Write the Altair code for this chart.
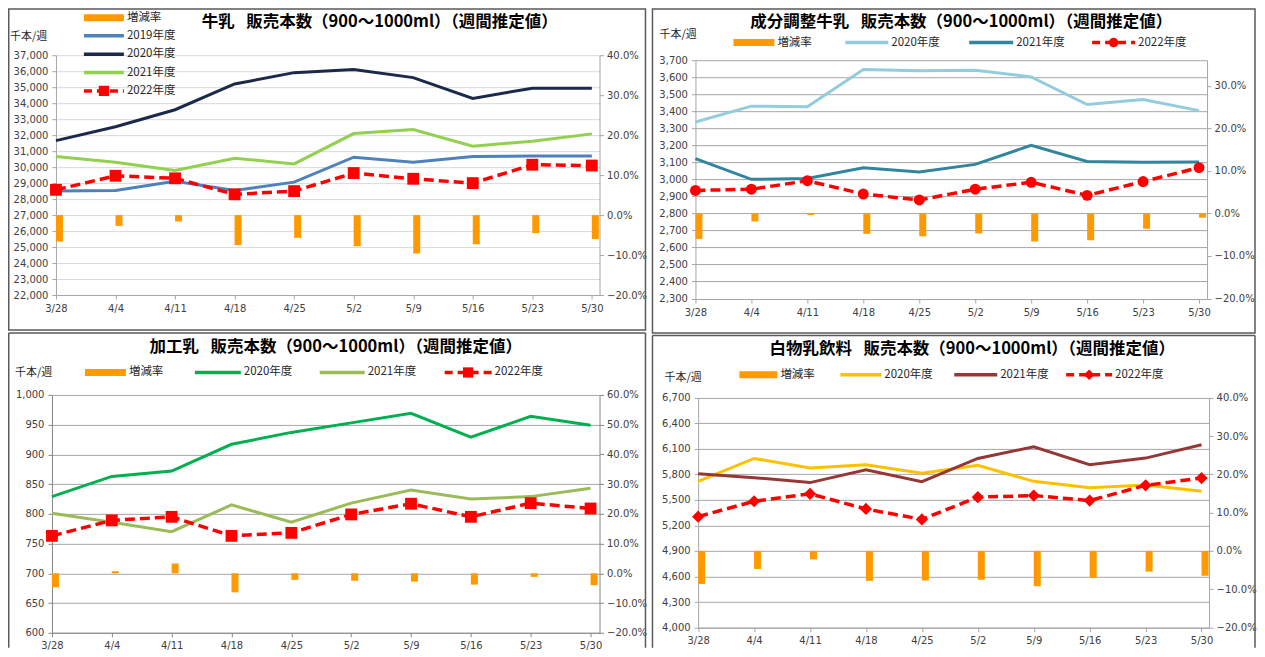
import json
import altair as alt
import pandas as pd

# ---------------- data ----------------
weeks = ["3/28", "4/4", "4/11", "4/18", "4/25", "5/2", "5/9", "5/16", "5/23", "5/30"]

# 牛乳
milk_title = "牛乳\u2002\u2009販売本数（900～1000ml）（週間推定値）"
milk_2019 = [28500, 28540, 29120, 28540, 29060, 30620, 30310, 30670, 30690, 30690]
milk_2020 = [31660, 32530, 33590, 35200, 35910, 36100, 35600, 34300, 34940, 34940]
milk_2021 = [30660, 30310, 29790, 30560, 30200, 32100, 32350, 31310, 31620, 32080]
milk_2022 = [28580, 29460, 29300, 28300, 28500, 29630, 29270, 29000, 30150, 30100]
milk_rate = [-6.6, -2.7, -1.6, -7.5, -5.7, -7.8, -9.6, -7.3, -4.5, -6.0]

# 成分調整牛乳
adj_title = "成分調整牛乳\u2002\u2009販売本数（900～1000ml）（週間推定値）"
adj_2020 = [3337, 3430, 3427, 3645, 3638, 3641, 3602, 3440, 3469, 3404]
adj_2021 = [3122, 3000, 3005, 3068, 3043, 3088, 3200, 3105, 3100, 3102]
adj_2022 = [2935, 2942, 2992, 2914, 2879, 2942, 2983, 2906, 2987, 3069]
adj_rate = [-6.0, -1.9, -0.4, -4.8, -5.4, -4.7, -6.6, -6.3, -3.6, -1.0]

# 加工乳
proc_title = "加工乳\u2002\u2009販売本数（900～1000ml）（週間推定値）"
proc_2020 = [829, 863, 872, 917, 937, 953, 969, 929, 964, 949]
proc_2021 = [801, 786, 770, 815, 786, 818, 840, 825, 829, 843]
proc_2022 = [763, 789, 795, 763, 768, 799, 817, 795, 818, 809]
proc_rate = [-4.7, 0.7, 3.3, -6.4, -2.2, -2.5, -2.8, -3.8, -1.2, -4.0]

# 白物乳飲料
drink_title = "白物乳飲料\u2002\u2009販売本数（900～1000ml）（週間推定値）"
drink_2020 = [5718, 5987, 5874, 5913, 5812, 5906, 5718, 5644, 5675, 5601]
drink_2021 = [5808, 5761, 5703, 5855, 5714, 5987, 6124, 5913, 5991, 6147]
drink_2022 = [5303, 5484, 5571, 5393, 5271, 5532, 5551, 5492, 5671, 5757]
drink_rate = [-8.6, -4.7, -2.2, -7.8, -7.7, -7.5, -9.2, -7.0, -5.4, -6.5]

unit_label = "千本/週"
rate_label = "増減率"

# ---------------- style ----------------
JP = "Noto Sans CJK JP"
NUM = "DejaVu Sans"
ORANGE = "#FF9900"
RED = "#FF0000"
BORDER = "#5A5A5A"
LABEL_EXPR = json.dumps(weeks) + "[datum.value]"


def make_panel(p):
    n = len(weeks)
    idx = list(range(n))
    xr0, xr1 = p["xrange"]
    px_unit = (xr1 - xr0) / p["xmax"]
    bar_w = 7.0 / px_unit

    X = alt.X(
        "i:Q",
        scale=alt.Scale(domain=[0, p["xmax"]], range=p["xrange"], nice=False, zero=False),
        axis=alt.Axis(values=idx, labelExpr=LABEL_EXPR, title=None, grid=False,
                      domainColor=p["axis"], tickColor=p["axis"], tickSize=4,
                      labelFont=NUM, labelFontSize=10, labelColor="#404040",
                      labelPadding=4, labelFlush=False, labelOverlap=False,
                      offset=p["xoff"]),
    )

    lo, hi, step = p["left"]
    YL = alt.Y(
        "value:Q",
        scale=alt.Scale(domain=[lo, hi], range=p["yrange"], nice=False, zero=False),
        axis=alt.Axis(orient="left", values=list(range(lo, hi + 1, step)), format=",d",
                      title=None, grid=True, gridColor=p["grid"], gridWidth=1,
                      domainColor=p["axis"], tickColor=p["axis"], tickSize=4,
                      labelFont=NUM, labelFontSize=10, labelColor="#404040",
                      labelPadding=4, labelFlush=False, labelOverlap=False,
                      offset=p["loff"]),
    )
    YR = alt.Y(
        "rate:Q",
        scale=alt.Scale(domain=p["rdom"], range=p["yrange"], nice=False, zero=False),
        axis=alt.Axis(orient="right", values=p["rticks"], format=".1%", title=None,
                      grid=False, domainColor=p["axis"], tickColor=p["axis"], tickSize=4,
                      labelFont=NUM, labelFontSize=10, labelColor="#404040",
                      labelPadding=3, labelFlush=False, labelOverlap=False,
                      offset=p["roff"]),
    )

    bars_df = pd.DataFrame({"i": idx, "rate": [r / 100 for r in p["rate"]]})
    bars_df["i2"] = bars_df["i"] + bar_w
    bars = alt.Chart(bars_df).mark_bar(color=ORANGE).encode(
        x=X, x2="i2:Q", y=YR, y2=alt.datum(0)
    )

    line_layers = []
    for name, vals, color in p["series"]:
        df = pd.DataFrame({"i": idx, "value": vals})
        line_layers.append(
            alt.Chart(df).mark_line(strokeWidth=3, color=color).encode(x=X, y=YL)
        )
    d22 = pd.DataFrame({"i": idx, "value": p["y2022"]})
    dashed = alt.Chart(d22).mark_line(color=RED, strokeWidth=3.5, strokeDash=[10, 5]).encode(x=X, y=YL)
    pts = alt.Chart(d22).mark_point(shape=p["shape"], filled=True, size=p["msize"],
                                    color=RED, opacity=1).encode(x=X, y=YL)
    group = alt.layer(*line_layers, dashed, pts)

    one = alt.Data(values=[{"k": 1}])
    deco = []
    # title
    tx, ty = p["title_pos"]
    deco.append(alt.Chart(one).mark_text(font=JP, fontSize=16.5, fontWeight="bold", color="#000000",
                                         align="center", baseline="middle").encode(
        x=alt.value(tx), y=alt.value(ty), text=alt.value(p["title"])))
    # unit
    ux, uy = p["unit_pos"]
    deco.append(alt.Chart(one).mark_text(font=JP, fontSize=11, color="#262626",
                                         align="left", baseline="middle").encode(
        x=alt.value(ux), y=alt.value(uy), text=alt.value(unit_label)))
    # legend
    for item in p["legend"]:
        kind, x0, x1, yy, label, color = item
        if kind == "bar":
            deco.append(alt.Chart(one).mark_rect(color=ORANGE).encode(
                x=alt.value(x0), x2=alt.value(x1), y=alt.value(yy - 3.5), y2=alt.value(yy + 3.5)))
        elif kind == "line":
            deco.append(alt.Chart(one).mark_rule(color=color, strokeWidth=3.5).encode(
                x=alt.value(x0), x2=alt.value(x1), y=alt.value(yy)))
        else:
            deco.append(alt.Chart(one).mark_rule(color=RED, strokeWidth=3.5, strokeDash=[8, 5]).encode(
                x=alt.value(x0), x2=alt.value(x1), y=alt.value(yy)))
            deco.append(alt.Chart(one).mark_point(shape=p["shape"], filled=True, size=p["msize"] * 0.75,
                                                  color=RED, opacity=1).encode(
                x=alt.value((x0 + x1) / 2), y=alt.value(yy)))
        deco.append(alt.Chart(one).mark_text(font=JP, fontSize=11.5, color="#262626",
                                             align="left", baseline="middle").encode(
            x=alt.value(x1 + 3), y=alt.value(yy), text=alt.value(label)))
    # border
    bx0, bx1, by0, by1 = p["box"]
    if p["closed"]:
        deco.append(alt.Chart(one).mark_rect(fillOpacity=0, stroke=BORDER, strokeWidth=1.5).encode(
            x=alt.value(bx0), x2=alt.value(bx1), y=alt.value(by0), y2=alt.value(by1)))
    else:
        deco.append(alt.Chart(one).mark_rule(color=BORDER, strokeWidth=1.5).encode(
            x=alt.value(bx0), x2=alt.value(bx1), y=alt.value(by0)))
        deco.append(alt.Chart(one).mark_rule(color=BORDER, strokeWidth=1.5).encode(
            x=alt.value(bx0), y=alt.value(by0), y2=alt.value(by1)))
        deco.append(alt.Chart(one).mark_rule(color=BORDER, strokeWidth=1.5).encode(
            x=alt.value(bx1), y=alt.value(by0), y2=alt.value(by1)))

    chart = alt.layer(bars, group, *deco).resolve_scale(y="independent").properties(
        width=p["w"], height=p["h"])
    return chart


pct = [-0.2, -0.1, 0.0, 0.1, 0.2, 0.3, 0.4, 0.5, 0.6]

p1 = make_panel(dict(
    title=milk_title, w=548, h=244, xrange=[4, 548], xmax=9.129, xoff=-4, loff=-4, roff=0,
    yrange=[240, 0], left=(22000, 37000, 1000), rdom=[-0.2, 0.4], rticks=pct[:7],
    axis="#A6A6A6", grid="#D9D9D9", rate=milk_rate,
    series=[("2019年度", milk_2019, "#4F81BD"), ("2020年度", milk_2020, "#1B2A4A"),
            ("2021年度", milk_2021, "#92D050")],
    y2022=milk_2022, shape="square", msize=140,
    title_pos=(328, -33), unit_pos=(-42, -18),
    legend=[("bar", 32, 72, -37.5, rate_label, ORANGE),
            ("line", 32, 72, -19.5, "2019年度", "#4F81BD"),
            ("line", 32, 72, -1, "2020年度", "#1B2A4A"),
            ("line", 32, 72, 17.3, "2021年度", "#92D050"),
            ("dash", 32, 72, 35.7, "2022年度", RED)],
    box=(-43.25, 594, -46.25, 275), closed=True,
))

p2 = make_panel(dict(
    title=adj_title, w=514, h=244, xrange=[0, 512], xmax=9.143, xoff=0, loff=0, roff=-2,
    yrange=[243.5, 5], left=(2300, 3700, 100), rdom=[-0.2, 0.36], rticks=pct[:6],
    axis="#A6A6A6", grid="#A6A6A6", rate=adj_rate,
    series=[("2020年度", adj_2020, "#93CDDD"), ("2021年度", adj_2021, "#31859C")],
    y2022=adj_2022, shape="circle", msize=120,
    title_pos=(266, -33), unit_pos=(-36, -20),
    legend=[("bar", 38, 79, -12.7, rate_label, ORANGE),
            ("line", 150, 193, -12.7, "2020年度", "#93CDDD"),
            ("line", 274, 318, -12.7, "2021年度", "#31859C"),
            ("dash", 397, 440, -12.7, "2022年度", RED)],
    box=(-43, 560, -46.25, 278), closed=True,
))

p3 = make_panel(dict(
    title=proc_title, w=548, h=238, xrange=[0, 548], xmax=9.15, xoff=0, loff=0, roff=0,
    yrange=[238, 0], left=(600, 1000, 50), rdom=[-0.2, 0.6], rticks=pct,
    axis="#868686", grid="#A6A6A6", rate=proc_rate,
    series=[("2020年度", proc_2020, "#00B050"), ("2021年度", proc_2021, "#9BBB59")],
    y2022=proc_2022, shape="square", msize=140,
    title_pos=(284, -47.5), unit_pos=(-37, -22),
    legend=[("bar", 33, 74, -22.5, rate_label, ORANGE),
            ("line", 143, 189, -22.5, "2020年度", "#00B050"),
            ("line", 268, 313, -22.5, "2021年度", "#9BBB59"),
            ("dash", 393, 440, -22.5, "2022年度", RED)],
    box=(-43.25, 594, -62, 253), closed=False,
))

p4 = make_panel(dict(
    title=drink_title, w=514, h=238, xrange=[2.7, 514], xmax=9.134, xoff=-5.2, loff=-2.7, roff=0,
    yrange=[232.8, 2.8], left=(4000, 6700, 300), rdom=[-0.2, 0.4], rticks=pct[:7],
    axis="#A6A6A6", grid="#A6A6A6", rate=drink_rate,
    series=[("2020年度", drink_2020, "#FFC000"), ("2021年度", drink_2021, "#953735")],
    y2022=drink_2022, shape="diamond", msize=150,
    title_pos=(277, -45.5), unit_pos=(-31, -17),
    legend=[("bar", 44, 82, -20.2, rate_label, ORANGE),
            ("line", 145, 186, -20.2, "2020年度", "#FFC000"),
            ("line", 259, 302, -20.2, "2021年度", "#953735"),
            ("dash", 371, 417, -20.2, "2022年度", RED)],
    box=(-43, 560, -59.5, 253), closed=False,
))

chart = alt.concat(
    p1, p2, p3, p4, columns=2, spacing={"row": 96, "column": 96}, bounds="flush", align="each"
).configure(padding=0, background="white").configure_view(stroke=None)

chart.save("out.html", embed_options={"renderer": "svg", "actions": False})
